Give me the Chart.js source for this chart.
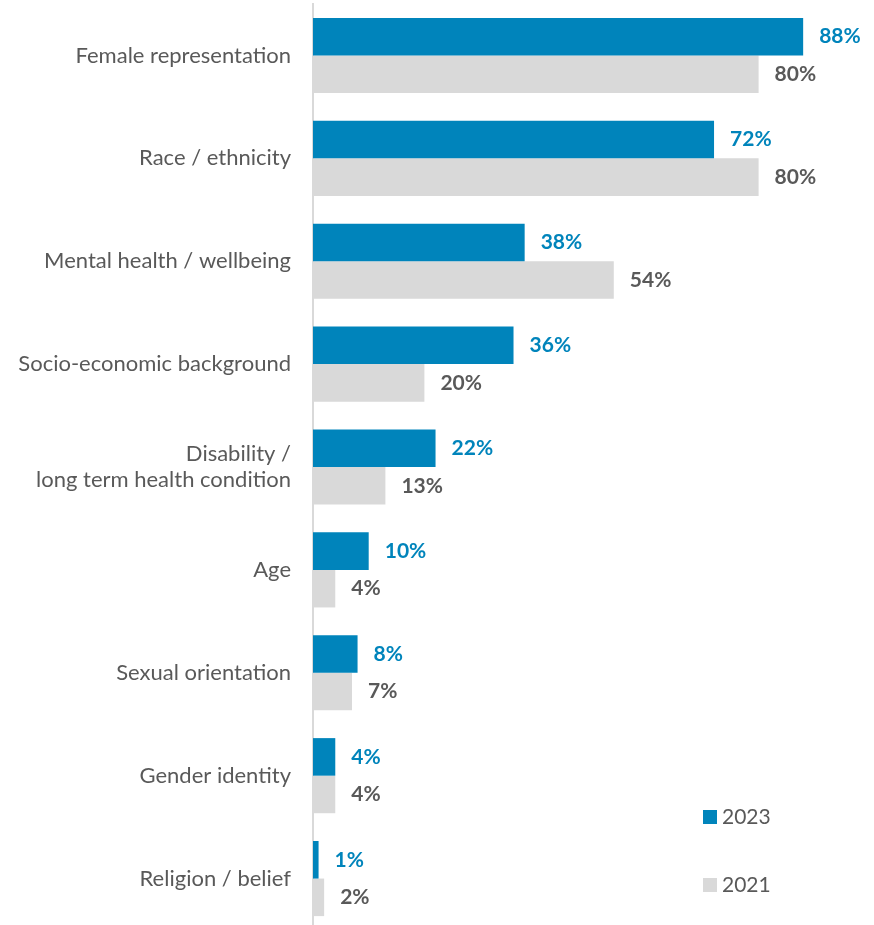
<!DOCTYPE html>
<html>
<head>
<meta charset="utf-8">
<script src="https://cdn.jsdelivr.net/npm/chart.js@4.4.1/dist/chart.umd.min.js"></script>
<style>
    html, body { margin: 0; padding: 0; background: #fff; overflow: hidden; }
    #wrap { position: relative; width: 874px; height: 930px; }
</style>
</head>
<body>
<div id="wrap"><canvas id="chart"></canvas></div>
<script>
const categories = [
    'Female representation',
    'Race / ethnicity',
    'Mental health / wellbeing',
    'Socio-economic background',
    ['Disability /', 'long term health condition'],
    'Age',
    'Sexual orientation',
    'Gender identity',
    'Religion / belief'
];
const values2023 = [88, 72, 38, 36, 22, 10, 8, 4, 1];
const values2021 = [80, 80, 54, 20, 13, 4, 7, 4, 2];
const seriesLabels = ['2023', '2021'];

const BLUE = '#0084bb';
const GREY = '#d9d9d9';
const TEXT = '#595959';
const FONT = 'Lato, "Open Sans", sans-serif';

// value labels at the end of each bar
const barLabels = {
    id: 'barLabels',
    afterDatasetsDraw(chart) {
        const ctx = chart.ctx;
        ctx.save();
        ctx.font = 'bold 21px ' + FONT;
        ctx.textBaseline = 'middle';
        ctx.textAlign = 'left';
        chart.data.datasets.forEach((ds, i) => {
            const meta = chart.getDatasetMeta(i);
            ctx.fillStyle = i === 0 ? BLUE : TEXT;
            meta.data.forEach((bar, j) => {
                ctx.fillText(ds.data[j] + '%', bar.x + 16, bar.y);
            });
        });
        ctx.restore();
    }
};

// legend stacked in the lower right corner
const cornerLegend = {
    id: 'cornerLegend',
    afterDraw(chart) {
        const ctx = chart.ctx;
        ctx.save();
        ctx.font = '21px ' + FONT;
        ctx.textBaseline = 'middle';
        chart.data.datasets.forEach((ds, i) => {
            const y = 817 + i * 68;
            ctx.fillStyle = ds.backgroundColor;
            ctx.fillRect(703, y - 7, 14, 14);
            ctx.fillStyle = TEXT;
            ctx.fillText(ds.label, 722, y);
        });
        ctx.restore();
    }
};

const ctx = document.getElementById('chart').getContext('2d');

new Chart(ctx, {
    type: 'bar',
    data: {
        labels: categories,
        datasets: [{
            label: seriesLabels[0],
            data: values2023,
            backgroundColor: BLUE,
            categoryPercentage: 0.73,
            barPercentage: 1.0
        }, {
            label: seriesLabels[1],
            data: values2021,
            backgroundColor: GREY,
            categoryPercentage: 0.73,
            barPercentage: 1.0
        }]
    },
    options: {
        indexAxis: 'y',
        responsive: true,
        maintainAspectRatio: false,
        animation: false,
        layout: {
            padding: {top: 4, right: 4, bottom: 0, left: 0}
        },
        plugins: {
            legend: {display: false},
            tooltip: {enabled: false}
        },
        scales: {
            x: {
                min: 0,
                max: 100,
                display: false
            },
            y: {
                grid: {display: false, drawTicks: false},
                border: {display: true, color: GREY, width: 2},
                afterFit: function (scale) {
                    // fixed label column, no extra room for half labels
                    scale.width = 313;
                    scale.paddingTop = 0;
                    scale.paddingBottom = 0;
                },
                ticks: {
                    color: TEXT,
                    padding: 22,
                    font: {family: FONT, size: 22}
                }
            }
        }
    },
    plugins: [barLabels, cornerLegend]
});
</script>
</body>
</html>
